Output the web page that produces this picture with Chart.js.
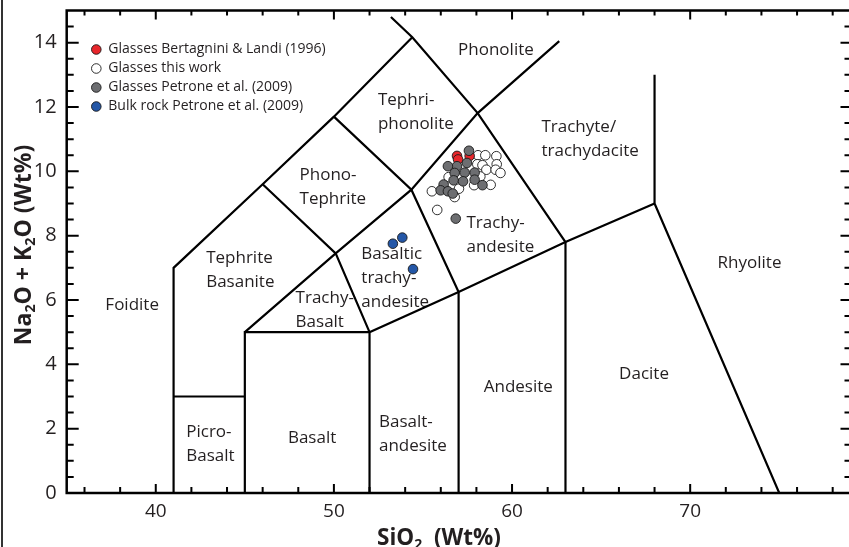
<!DOCTYPE html>
<html>
<head>
<meta charset="utf-8">
<script src="https://cdn.jsdelivr.net/npm/chart.js@4.4.1/dist/chart.umd.min.js"></script>
<style>
  html, body { margin: 0; padding: 0; background: #fff; overflow: hidden; }
  canvas { display: block; }
</style>
</head>
<body>
<canvas id="tasChart" width="852" height="547"></canvas>
<script>
// analyses, SiO2 vs Na2O + K2O (wt%)
const bertagniniSiO2 = [56.91, 56.97, 57.62];
const bertagniniAlk = [10.48, 10.37, 10.48];

const thisWorkSiO2 = [58.09, 58.50, 59.12, 59.14, 58.05, 58.34, 58.56, 59.08, 59.35, 58.22, 58.80, 57.87, 57.02, 56.78, 55.50, 55.80, 56.44, 57.15];
const thisWorkAlk = [10.50, 10.50, 10.47, 10.22, 10.22, 10.19, 10.05, 10.05, 9.95, 9.84, 9.58, 9.57, 9.46, 9.20, 9.38, 8.80, 9.82, 9.85];

const petroneGlassSiO2 = [57.58, 57.47, 56.91, 56.40, 56.78, 57.34, 57.90, 56.72, 57.25, 57.90, 58.34, 56.16, 55.99, 56.40, 56.67, 56.84];
const petroneGlassAlk = [10.64, 10.26, 10.16, 10.16, 9.95, 9.96, 9.96, 9.72, 9.69, 9.74, 9.57, 9.59, 9.41, 9.38, 9.31, 8.53];

const bulkRockSiO2 = [53.31, 53.84, 54.44];
const bulkRockAlk = [7.75, 7.94, 6.96];

// TAS field boundaries as drawn in the figure
const boundaries = [
  [[41, 0], [41, 7], [46, 9.6], [50, 11.7], [54.4, 14.17]],
  [[41, 3], [45, 3]],
  [[45, 0], [45, 5], [52, 5]],
  [[52, 0], [52, 5], [57, 6.25], [63, 7.8], [68, 9]],
  [[45, 5], [50.1, 7.45], [54.35, 9.43], [58.07, 11.81], [62.65, 14.05]],
  [[46, 9.6], [50.1, 7.45], [52, 5]],
  [[50, 11.7], [54.35, 9.43], [57, 6.25], [57, 0]],
  [[53.2, 14.8], [54.4, 14.17], [58.07, 11.81], [63, 7.8], [63, 0]],
  [[68, 13], [68, 9], [75, 0]]
];

const xTicks = [40, 50, 60, 70];
const yTicks = [0, 2, 4, 6, 8, 10, 12, 14];

const fieldNames = [
  { lines: ['Phonolite'], x: 56.97, y: 13.78 },
  { lines: ['Tephri-', 'phonolite'], x: 52.47, y: 12.2 },
  { lines: ['Phono-', 'Tephrite'], x: 48.07, y: 9.88 },
  { lines: ['Tephrite', 'Basanite'], x: 42.83, y: 7.29 },
  { lines: ['Trachy-', 'Basalt'], x: 47.85, y: 6.05 },
  { lines: ['Basaltic', 'trachy-', 'andesite'], x: 51.54, y: 7.42 },
  { lines: ['Trachy-', 'andesite'], x: 57.44, y: 8.38 },
  { lines: ['Trachyte/', 'trachydacite'], x: 61.65, y: 11.38 },
  { lines: ['Foidite'], x: 37.17, y: 5.84 },
  { lines: ['Picro-', 'Basalt'], x: 41.71, y: 1.9 },
  { lines: ['Basalt'], x: 47.42, y: 1.7 },
  { lines: ['Basalt-', 'andesite'], x: 52.53, y: 2.21 },
  { lines: ['Andesite'], x: 58.41, y: 3.3 },
  { lines: ['Dacite'], x: 66.01, y: 3.7 },
  { lines: ['Rhyolite'], x: 71.54, y: 7.15 }
];

function pts(xs, ys) {
  return xs.map((v, i) => ({ x: v, y: ys[i] }));
}

function dots(label, xs, ys, fill, order) {
  return {
    label: label,
    data: pts(xs, ys),
    backgroundColor: fill,
    borderColor: '#1a1a1a',
    borderWidth: 0.9,
    pointRadius: 4.8,
    pointHoverRadius: 4.8,
    order: order
  };
}

const datasets = [
  dots('Glasses Bertagnini & Landi (1996)', bertagniniSiO2, bertagniniAlk, '#e8262b', 2),
  dots('Glasses this work', thisWorkSiO2, thisWorkAlk, '#ffffff', 3),
  dots('Glasses Petrone et al. (2009)', petroneGlassSiO2, petroneGlassAlk, '#6d6e71', 1),
  dots('Bulk rock Petrone et al. (2009)', bulkRockSiO2, bulkRockAlk, '#2457a7', 1)
];

boundaries.forEach(b => {
  datasets.push({
    label: '',
    data: b.map(p => ({ x: p[0], y: p[1] })),
    showLine: true,
    borderColor: '#000',
    borderWidth: 2.2,
    pointRadius: 0,
    fill: false,
    order: 5
  });
});

const FONT = "'Open Sans', sans-serif";

// draws text with subscript digits ("Na|2|O")
function richText(ctx, parts, x, y, size) {
  let w = 0;
  parts.forEach(p => {
    ctx.font = 'bold ' + (p.sub ? size * 0.62 : size) + 'px ' + FONT;
    w += ctx.measureText(p.t).width;
  });
  let cx = x - w / 2;
  parts.forEach(p => {
    ctx.font = 'bold ' + (p.sub ? size * 0.62 : size) + 'px ' + FONT;
    ctx.fillText(p.t, cx, p.sub ? y + size * 0.18 : y);
    cx += ctx.measureText(p.t).width;
  });
}

function noPad(s) {
  s.paddingTop = 0;
  s.paddingBottom = 0;
  s.paddingLeft = 0;
  s.paddingRight = 0;
}

const tasDecor = {
  id: 'tasDecor',
  beforeDatasetsDraw(chart) {
    const { ctx, scales: { x, y } } = chart;
    ctx.save();
    ctx.fillStyle = '#231f20';
    ctx.font = '17px ' + FONT;
    ctx.textAlign = 'left';
    ctx.textBaseline = 'middle';
    fieldNames.forEach(f => {
      const px = x.getPixelForValue(f.x);
      const py = y.getPixelForValue(f.y);
      f.lines.forEach((t, i) => ctx.fillText(t, px, py + i * 24));
    });
    ctx.restore();
  },
  afterDraw(chart) {
    const { ctx, chartArea: a, scales: { x, y } } = chart;
    ctx.save();
    // frame line at the far left of the figure
    ctx.fillStyle = '#333';
    ctx.fillRect(1, 0, 2, chart.height);

    ctx.strokeStyle = '#000';
    ctx.lineWidth = 2.5;
    ctx.strokeRect(a.left, a.top, a.right - a.left, a.bottom - a.top);

    ctx.lineWidth = 2;
    ctx.beginPath();
    for (let v = 36; v <= 78; v += 2) {
      const px = x.getPixelForValue(v);
      const big = v % 10 === 0;
      ctx.moveTo(px, a.bottom);
      ctx.lineTo(px, a.bottom - (big ? 9 : 6));
      ctx.moveTo(px, a.top);
      ctx.lineTo(px, a.top + (big ? 9 : 5));
    }
    for (let v = 0.5; v < 15; v += 0.5) {
      const py = y.getPixelForValue(v);
      const big = v % 2 === 0;
      ctx.moveTo(a.left, py);
      ctx.lineTo(a.left + (big ? 12 : 7), py);
      ctx.moveTo(a.right, py);
      ctx.lineTo(a.right - (big ? 10 : 6), py);
    }
    ctx.stroke();

    // legend
    ctx.textAlign = 'left';
    ctx.textBaseline = 'middle';
    ctx.font = '14px ' + FONT;
    chart.data.datasets.slice(0, 4).forEach((ds, i) => {
      const ly = 49.5 + i * 19;
      ctx.beginPath();
      ctx.arc(96.3, ly, 4.8, 0, Math.PI * 2);
      ctx.fillStyle = ds.backgroundColor;
      ctx.fill();
      ctx.lineWidth = 0.9;
      ctx.strokeStyle = '#1a1a1a';
      ctx.stroke();
      ctx.fillStyle = '#231f20';
      ctx.fillText(ds.label, 108.3, ly);
    });

    // axis titles
    ctx.fillStyle = '#231f20';
    ctx.textAlign = 'left';
    ctx.textBaseline = 'alphabetic';
    richText(ctx, [{ t: 'SiO' }, { t: '2', sub: true }, { t: '  (Wt%)' }], 439, 545, 22.5);
    ctx.translate(31, 245);
    ctx.rotate(-Math.PI / 2);
    richText(ctx, [{ t: 'Na' }, { t: '2', sub: true }, { t: 'O + K' }, { t: '2', sub: true }, { t: 'O (Wt%)' }], 0, 0, 23);
    ctx.restore();
  }
};

new Chart(document.getElementById('tasChart'), {
  type: 'scatter',
  data: { datasets: datasets },
  plugins: [tasDecor],
  options: {
    responsive: false,
    animation: false,
    layout: { autoPadding: false, padding: { top: 10.5, right: 1.5, left: 0, bottom: 0 } },
    plugins: {
      legend: { display: false },
      tooltip: { enabled: false }
    },
    scales: {
      x: {
        type: 'linear',
        min: 35,
        max: 79,
        afterBuildTicks: s => { s.ticks = xTicks.map(v => ({ value: v })); },
        afterFit: s => { s.height = 54; noPad(s); },
        ticks: { font: { family: FONT, size: 19 }, color: '#231f20', padding: 7, maxRotation: 0 },
        grid: { display: false, drawTicks: false },
        border: { display: false }
      },
      y: {
        min: 0,
        max: 15,
        afterBuildTicks: s => { s.ticks = yTicks.map(v => ({ value: v })); },
        afterFit: s => { s.width = 66.7; noPad(s); },
        ticks: { font: { family: FONT, size: 20 }, color: '#231f20', padding: 10 },
        grid: { display: false, drawTicks: false },
        border: { display: false }
      }
    }
  }
});
</script>
</body>
</html>
